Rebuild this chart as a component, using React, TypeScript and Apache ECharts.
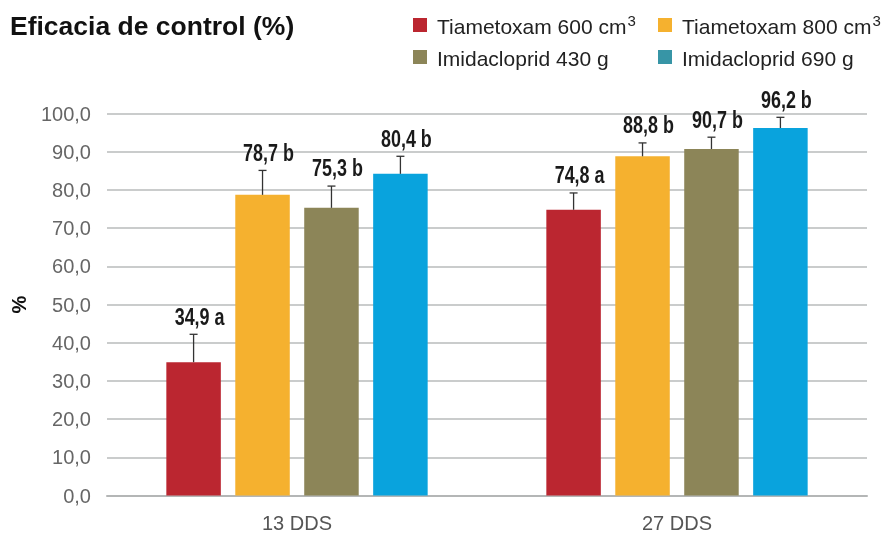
import React, { useEffect, useRef } from "react";
import * as echarts from "echarts";

const categories = ["13 DDS", "27 DDS"];
const seriesNames = [
  "Tiametoxam 600 cm3",
  "Tiametoxam 800 cm3",
  "Imidacloprid 430 g",
  "Imidacloprid 690 g",
];
const tiametoxam600 = [34.9, 74.8];
const tiametoxam800 = [78.7, 88.8];
const imidacloprid430 = [75.3, 90.7];
const imidacloprid690 = [84.2, 96.2];
const tiametoxam600Err = [42.2, 79.2];
const tiametoxam800Err = [85.1, 92.3];
const imidacloprid430Err = [81.0, 93.8];
const imidacloprid690Err = [88.8, 99.0];
const tiametoxam600Lbl = ["34,9 a", "74,8 a"];
const tiametoxam800Lbl = ["78,7 b", "88,8 b"];
const imidacloprid430Lbl = ["75,3 b", "90,7 b"];
const imidacloprid690Lbl = ["80,4 b", "96,2 b"];

const values = [tiametoxam600, tiametoxam800, imidacloprid430, imidacloprid690];
const errTops = [tiametoxam600Err, tiametoxam800Err, imidacloprid430Err, imidacloprid690Err];
const labels = [tiametoxam600Lbl, tiametoxam800Lbl, imidacloprid430Lbl, imidacloprid690Lbl];

const barColors = ["#bb2630", "#f5b12f", "#8c8558", "#09a3dd"];
const legendColors = ["#bb2630", "#f5b12f", "#8c8558", "#3795a6"];

const BAR_W = 54.5;
const BAR_GAP = 0.265;
const FONT = "'Liberation Sans', Arial, sans-serif";

export default function App() {
  const ref = useRef<HTMLDivElement>(null);
  useEffect(() => {
    if (!ref.current) return;
    const chart = echarts.init(ref.current, null, { renderer: "svg" });
    const step = BAR_W * (1 + BAR_GAP);

    const legendPos = [
      { left: 413, top: 13 },
      { left: 658, top: 13 },
      { left: 413, top: 48 },
      { left: 658, top: 48 },
    ];

    const legends = seriesNames.map((n, i) => ({
      left: legendPos[i].left,
      top: legendPos[i].top,
      padding: 0,
      itemWidth: 14,
      itemHeight: 14,
      icon: "rect",
      selectedMode: false,
      data: [{ name: n, itemStyle: { color: legendColors[i] } }],
      formatter: (name: string) =>
        name.endsWith("cm3")
          ? `{n|${name.slice(0, -1)}}{s|3}`
          : `{n|${name}}`,
      textStyle: {
        fontFamily: FONT,
        rich: {
          n: {
            fontFamily: FONT,
            fontSize: 21,
            color: "#222",
            lineHeight: 24,
            verticalAlign: "bottom",
            padding: [0, 1, 0, 5],
          },
          s: {
            fontFamily: FONT,
            fontSize: 15,
            color: "#222",
            lineHeight: 15,
            verticalAlign: "top",
          },
        },
      },
    }));

    const barSeries = seriesNames.map((n, i) => ({
      name: n,
      type: "bar",
      data: values[i],
      barWidth: BAR_W,
      barGap: `${BAR_GAP * 100}%`,
      itemStyle: { color: barColors[i] },
      z: 2,
    }));

    const errSeries = seriesNames.map((n, si) => ({
      name: n + " err",
      type: "custom",
      z: 5,
      data: categories.map((_, ci) => [ci, errTops[si][ci], values[si][ci]]),
      renderItem: (params: any, api: any) => {
        const ci = api.value(0);
        const top = api.coord([ci, api.value(1)]);
        const base = api.coord([ci, api.value(2)]);
        const x = top[0] + (si - 1.5) * step;
        return {
          type: "group",
          children: [
            {
              type: "line",
              shape: { x1: x, y1: base[1], x2: x, y2: top[1] },
              style: { stroke: "#333", lineWidth: 1.3 },
            },
            {
              type: "line",
              shape: { x1: x - 4, y1: top[1], x2: x + 4, y2: top[1] },
              style: { stroke: "#333", lineWidth: 1.3 },
            },
            {
              type: "text",
              x: x + 6,
              y: top[1] - 18,
              scaleX: 0.78,
              style: {
                text: labels[si][params.dataIndex],
                fontFamily: FONT,
                fontWeight: "bold",
                fontSize: 23,
                fill: "#1a1a1a",
                textAlign: "center",
                textVerticalAlign: "middle",
              },
            },
          ],
        };
      },
    }));

    chart.setOption({
      animation: false,
      title: {
        text: "Eficacia de control (%)",
        left: 10,
        top: 12,
        padding: 0,
        textStyle: {
          fontFamily: FONT,
          fontSize: 26.5,
          fontWeight: "bold",
          color: "#111",
        },
      },
      legend: legends,
      grid: {
        left: 107,
        right: 22,
        top: 113.5,
        bottom: 38.5,
        containLabel: false,
        outerBoundsMode: "none",
      },
      xAxis: {
        type: "category",
        data: categories,
        axisLine: { lineStyle: { color: "#b4b6b6", width: 2 } },
        axisTick: { show: false },
        axisLabel: {
          margin: 17,
          fontFamily: FONT,
          fontSize: 20,
          color: "#555",
        },
      },
      yAxis: {
        type: "value",
        min: 0,
        max: 100,
        interval: 10,
        name: "%",
        nameLocation: "middle",
        nameGap: 78,
        nameRotate: 90,
        nameTextStyle: {
          fontFamily: FONT,
          fontSize: 20,
          fontWeight: "bold",
          color: "#111",
        },
        axisLine: { show: false },
        axisTick: { show: false },
        splitLine: { lineStyle: { color: "#b9bbbb", width: 1.5 } },
        axisLabel: {
          margin: 16,
          fontFamily: FONT,
          fontSize: 20,
          color: "#666",
          padding: [0, 0, 8, 0],
          formatter: (v: number) => v.toFixed(1).replace(".", ","),
        },
      },
      series: [...barSeries, ...errSeries],
    });
    return () => chart.dispose();
  }, []);
  return (
    <div
      ref={ref}
      style={{ position: "fixed", left: 0, top: 0, width: 889, height: 534 }}
    />
  );
}
